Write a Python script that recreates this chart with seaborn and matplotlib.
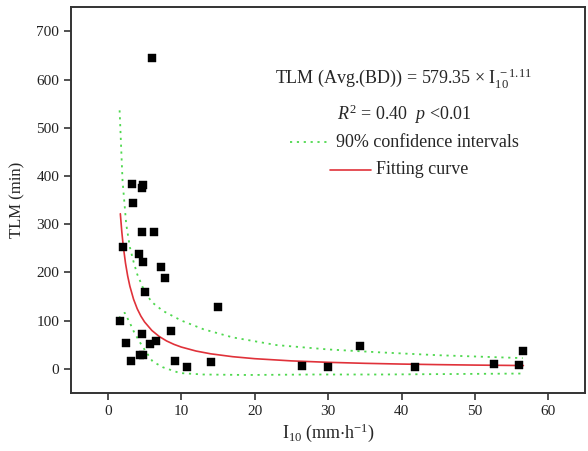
import numpy as np
import pandas as pd
import matplotlib
matplotlib.use("Agg")
import matplotlib.pyplot as plt
import seaborn as sns

# ---- data ----
i10 = [6.0, 3.3, 4.8, 4.6, 3.4, 4.6, 6.3, 2.0, 4.2, 4.8, 7.3, 7.8, 5.0, 15.0,
       1.6, 8.6, 4.6, 2.5, 6.5, 5.8, 4.4, 4.8, 3.2, 9.2, 10.8, 14.1,
       26.4, 30.0, 34.3, 41.8, 52.6, 56.0, 56.6]
tlm = [645, 384, 382, 375, 343, 283, 283, 253, 238, 222, 210, 189, 160, 128,
       100, 79, 72, 54, 58, 52, 28, 28, 15, 17, 3, 14,
       6, 4, 48, 3, 10, 8, 36]

fit_a = 579.35
fit_b = -1.11
fit_x = [1.7, 1.9, 2.1, 2.4, 2.7, 3.0, 3.5, 4.0, 4.5, 5.0, 6.0, 7.0, 8.0, 9.0,
         10, 12, 14, 17, 20, 25, 30, 35, 40, 45, 50, 56.6]

upper_x = [1.6, 2.0, 2.5, 3.0, 3.5, 4.0, 5.0, 6.0, 7.5, 10, 13, 17, 23, 30, 37, 45, 56.5]
upper_y = [536, 390, 300, 252, 222, 196, 160, 138, 120, 100, 82, 65, 49, 40, 34, 28, 22]
lower_x = [1.5, 2.3, 3.0, 3.6, 4.4, 5.2, 6.1, 7.5, 9.8, 13, 19, 28, 37, 47, 56.5]
lower_y = [105, 116, 95, 75, 54, 35, 15, 3, -9, -12, -13, -12, -12, -11, -10]

x_ticks = [0, 10, 20, 30, 40, 50, 60]
y_ticks = [0, 100, 200, 300, 400, 500, 600, 700]

# ---- style ----
sns.set_style("ticks")
plt.rcParams["font.family"] = ["Liberation Serif", "DejaVu Serif"]
plt.rcParams["mathtext.fontset"] = "custom"
plt.rcParams["mathtext.rm"] = "Liberation Serif"
plt.rcParams["mathtext.it"] = "Liberation Serif:italic"
plt.rcParams["mathtext.bf"] = "Liberation Serif:bold"

GREEN = "#4fd84f"
RED = "#e0323a"
SPINE = "#333333"

fig = plt.figure(figsize=(5.88, 4.51), dpi=100)
ax = fig.add_axes([0.121, 0.129, 0.874, 0.855])

pts = pd.DataFrame({"I10": i10, "TLM": tlm})
fit_df = pd.DataFrame({"x": fit_x, "y": [fit_a * v ** fit_b for v in fit_x]})
up_df = pd.DataFrame({"x": upper_x, "y": upper_y})
lo_df = pd.DataFrame({"x": lower_x, "y": lower_y})

dots = (0, (1.2, 2.6))
sns.lineplot(data=up_df, x="x", y="y", ax=ax, color=GREEN, lw=1.3,
             linestyle=dots, estimator=None, sort=False)
sns.lineplot(data=lo_df, x="x", y="y", ax=ax, color=GREEN, lw=1.3,
             linestyle=dots, estimator=None, sort=False)
sns.lineplot(data=fit_df, x="x", y="y", ax=ax, color=RED, lw=1.2,
             estimator=None, sort=False)
sns.scatterplot(data=pts, x="I10", y="TLM", ax=ax, marker="s", s=28,
                color="black", edgecolor="black", linewidth=0.3, zorder=5)

ax.set_xlim(-5, 65)
ax.set_ylim(-50, 750)
ax.set_xticks(x_ticks)
ax.set_yticks(y_ticks)
ax.tick_params(axis="both", direction="out", length=5, width=1.2,
               colors=SPINE, labelsize=11, labelcolor="#222222")
for s in ax.spines.values():
    s.set_visible(True)
    s.set_linewidth(1.4)
    s.set_color(SPINE)

ax.set_xlabel(r"$\mathregular{I_{10}\ (mm{\cdot}h^{-1})}$", fontsize=13, labelpad=3)
ax.set_ylabel("TLM (min)", fontsize=12, labelpad=8)

# ---- annotation / legend ----
ax.text(0.646, 0.816, r"TLM (Avg.(BD)) = 579.35 $\times$ $\mathregular{I_{10}^{\ -1.11}}$",
        transform=ax.transAxes, ha="center", va="center", fontsize=13)
ax.text(0.648, 0.723, r"$R^{2}$ = 0.40  $p$ <0.01",
        transform=ax.transAxes, ha="center", va="center", fontsize=13)
ax.plot([0.426, 0.504], [0.650, 0.650], transform=ax.transAxes,
        color=GREEN, lw=1.3, linestyle=dots)
ax.text(0.516, 0.650, "90% confidence intervals", transform=ax.transAxes,
        ha="left", va="center", fontsize=13)
ax.plot([0.504, 0.584], [0.578, 0.578], transform=ax.transAxes,
        color=RED, lw=1.2)
ax.text(0.594, 0.578, "Fitting curve", transform=ax.transAxes,
        ha="left", va="center", fontsize=13)

fig.savefig("out.png", dpi=100)
